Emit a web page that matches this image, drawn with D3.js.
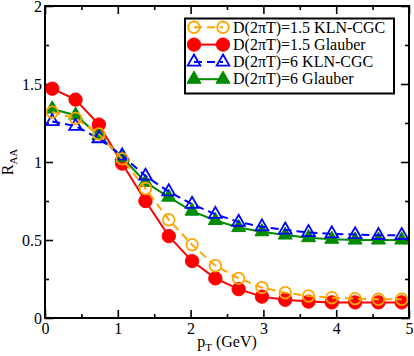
<!DOCTYPE html>
<html>
<head>
<meta charset="utf-8">
<script src="https://cdn.jsdelivr.net/npm/d3@7"></script>
</head>
<body style="margin:0; background:#fff">
<svg class="chart"></svg>
<script>
// pT points (GeV)
const pT = [0.1, 0.42, 0.74, 1.06, 1.38, 1.7, 2.02, 2.34, 2.66, 2.98, 3.3, 3.62, 3.94, 4.26, 4.58, 4.9];

// R_AA values
const klnD15 = [1.32, 1.28, 1.18, 1.02, 0.83, 0.63, 0.47, 0.335, 0.254, 0.195, 0.162, 0.141, 0.13, 0.124, 0.12, 0.12];
const glauberD15 = [1.47, 1.40, 1.24, 0.99, 0.75, 0.525, 0.365, 0.254, 0.185, 0.137, 0.117, 0.105, 0.10, 0.10, 0.10, 0.10];
const klnD6 = [1.26, 1.23, 1.15, 1.04, 0.91, 0.81, 0.73, 0.665, 0.615, 0.585, 0.565, 0.548, 0.54, 0.535, 0.53, 0.53];
const glauberD6 = [1.34, 1.30, 1.17, 1.03, 0.87, 0.775, 0.685, 0.625, 0.58, 0.553, 0.532, 0.515, 0.505, 0.50, 0.50, 0.50];

const legendLabels = ['D(2\u03c0T)=1.5 KLN-CGC', 'D(2\u03c0T)=1.5 Glauber', 'D(2\u03c0T)=6 KLN-CGC', 'D(2\u03c0T)=6 Glauber'];

const xTicks = [0, 1, 2, 3, 4, 5];
const xMinor = [0.5, 1.5, 2.5, 3.5, 4.5];
const yTicks = [0, 0.5, 1, 1.5, 2];
const yMinor = [0.25, 0.75, 1.25, 1.75];

const W = 414, H = 356;
const margin = { top: 6, right: 5, bottom: 38, left: 45 };
const FONT = '"Liberation Serif"';

const svg = d3.select('.chart').attr('width', W).attr('height', H);

const x = d3.scaleLinear().domain([0, 5]).range([margin.left, W - margin.right]);
const y = d3.scaleLinear().domain([0, 2]).range([H - margin.bottom, margin.top]);

const x0 = x.range()[0], x1 = x.range()[1];
const y0 = y.range()[0], y1 = y.range()[1];

// series: drawn in this order
const series = [
  { name: legendLabels[1], values: glauberD15, color: '#ff0000', dash: null, sym: 'circle', fill: true },
  { name: legendLabels[3], values: glauberD6, color: '#008b00', dash: null, sym: 'triangle', fill: true },
  { name: legendLabels[2], values: klnD6, color: '#0000ff', dash: '8,5', sym: 'triangle', fill: false },
  { name: legendLabels[0], values: klnD15, color: '#ffa500', dash: '8,5', sym: 'circle', fill: false }
];
const legendOrder = [3, 0, 2, 1];

function axisStyle(g) {
  g.attr('font-family', null);
  g.select('.domain').remove();
  g.selectAll('line').attr('stroke', '#000').attr('stroke-width', 1.6);
  g.selectAll('text').attr('font-size', 16).attr('fill', '#000');
}

// major + minor ticks, all pointing in
svg.append('g').attr('transform', 'translate(0,' + y0 + ')')
  .call(d3.axisBottom(x).tickValues(xTicks).tickSize(-8).tickPadding(5).tickFormat(d3.format('')))
  .call(axisStyle);
svg.append('g').attr('transform', 'translate(0,' + y0 + ')')
  .call(d3.axisBottom(x).tickValues(xMinor).tickSize(-4).tickFormat(''))
  .call(axisStyle);
svg.append('g').attr('transform', 'translate(0,' + y1 + ')')
  .call(d3.axisTop(x).tickValues(xTicks).tickSize(-8).tickFormat(''))
  .call(axisStyle);
svg.append('g').attr('transform', 'translate(0,' + y1 + ')')
  .call(d3.axisTop(x).tickValues(xMinor).tickSize(-4).tickFormat(''))
  .call(axisStyle);

svg.append('g').attr('transform', 'translate(' + x0 + ',0)')
  .call(d3.axisLeft(y).tickValues(yTicks).tickSize(-8).tickPadding(3).tickFormat(d3.format('')))
  .call(axisStyle);
svg.append('g').attr('transform', 'translate(' + x0 + ',0)')
  .call(d3.axisLeft(y).tickValues(yMinor).tickSize(-4).tickFormat(''))
  .call(axisStyle);
svg.append('g').attr('transform', 'translate(' + x1 + ',0)')
  .call(d3.axisRight(y).tickValues(yTicks).tickSize(-8).tickFormat(''))
  .call(axisStyle);
svg.append('g').attr('transform', 'translate(' + x1 + ',0)')
  .call(d3.axisRight(y).tickValues(yMinor).tickSize(-4).tickFormat(''))
  .call(axisStyle);

// clip for data
svg.append('clipPath').attr('id', 'plotclip')
  .append('rect').attr('x', x0).attr('y', y1).attr('width', x1 - x0).attr('height', y0 - y1);

const plot = svg.append('g').attr('clip-path', 'url(#plotclip)');

const line = d3.line().x(d => x(d[0])).y(d => y(d[1]));

const circleSym = d3.symbol().type(d3.symbolCircle);
const triSym = d3.symbol().type(d3.symbolTriangle);

function symPath(s) {
  return s.sym === 'circle'
    ? circleSym.size(s.fill ? 140 : 105)()
    : triSym.size(s.fill ? 85 : 70)();
}

series.forEach(s => {
  const pts = pT.map((p, i) => [p, s.values[i]]);
  plot.append('path')
    .datum(pts)
    .attr('d', line)
    .attr('fill', 'none')
    .attr('stroke', s.color)
    .attr('stroke-width', 2)
    .attr('stroke-dasharray', s.dash);
  plot.selectAll(null)
    .data(pts)
    .enter().append('path')
    .attr('d', symPath(s))
    .attr('transform', d => 'translate(' + x(d[0]) + ',' + y(d[1]) + ')')
    .attr('fill', s.fill ? s.color : 'none')
    .attr('stroke', s.color)
    .attr('stroke-width', s.fill ? 1 : 1.8);
});

// frame
svg.append('rect')
  .attr('x', x0).attr('y', y1)
  .attr('width', x1 - x0).attr('height', y0 - y1)
  .attr('fill', 'none').attr('stroke', '#000').attr('stroke-width', 2);

// axis titles
svg.append('text')
  .attr('x', (x0 + x1) / 2).attr('y', 347)
  .attr('text-anchor', 'middle').attr('font-size', 16)
  .html('p<tspan font-size="11" dy="4">T</tspan><tspan dy="-4"> (GeV)</tspan>');

svg.append('text')
  .attr('transform', 'translate(13,' + ((y0 + y1) / 2) + ') rotate(-90)')
  .attr('text-anchor', 'middle').attr('font-size', 16)
  .html('R<tspan font-size="11" dy="4">AA</tspan>');

// legend
const leg = svg.append('g');
leg.append('rect')
  .attr('x', 185).attr('y', 18.5).attr('width', 209).attr('height', 75)
  .attr('fill', '#fff').attr('stroke', '#000').attr('stroke-width', 2);

legendOrder.forEach((si, row) => {
  const s = series[si];
  const ly = 27.3 + row * 17.3;
  leg.append('line')
    .attr('x1', 194).attr('x2', 223).attr('y1', ly).attr('y2', ly)
    .attr('stroke', s.color).attr('stroke-width', 2)
    .attr('stroke-dasharray', s.dash);
  [194, 223].forEach(lx => {
    leg.append('path')
      .attr('d', symPath(s))
      .attr('transform', 'translate(' + lx + ',' + ly + ')')
      .attr('fill', s.fill ? s.color : 'none')
      .attr('stroke', s.color)
      .attr('stroke-width', s.fill ? 1 : 1.8);
  });
  leg.append('text')
    .attr('x', 233).attr('y', ly).attr('dy', '0.33em')
    .attr('font-size', 16)
    .text(s.name);
});

// serif font on every text
svg.selectAll('text').style('font-family', FONT);
</script>
</body>
</html>
